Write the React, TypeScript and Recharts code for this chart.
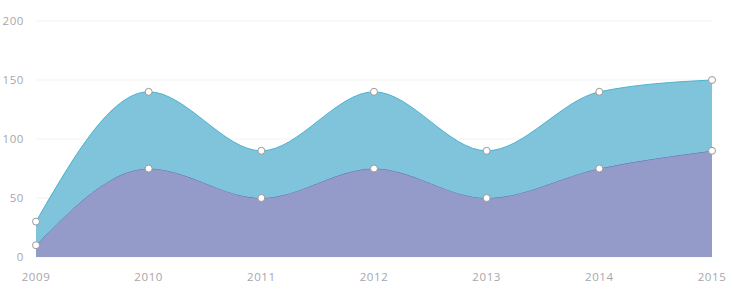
import { AreaChart, Area, XAxis, YAxis, CartesianGrid } from "recharts";

// yearly values, series b stacked on top of series a
const years = ["2009", "2010", "2011", "2012", "2013", "2014", "2015"];
const seriesA = [10, 75, 50, 75, 50, 75, 90];
const seriesB = [20, 65, 40, 65, 40, 65, 60];
const yTicks = [0, 50, 100, 150, 200];

const data = years.map((y, i) => ({ year: y, a: seriesA[i], b: seriesB[i] }));

const tickStyle = {
  fill: "#a6a6ad",
  fontSize: 11.5,
  letterSpacing: 0.6,
  fontFamily: "'Open Sans', sans-serif",
};
const dot = { r: 3.5, fill: "#ffffff", stroke: "#9a9a9a", strokeWidth: 1 };

export default function App() {
  return (
    <div style={{ position: "absolute", left: 0, top: 0, width: 731, height: 289, background: "#fff" }}>
      <AreaChart width={731} height={289} data={data} margin={{ top: 21, right: 19, bottom: 12, left: 6 }}>
        <CartesianGrid vertical={false} stroke="#f3f3f3" />
        <XAxis
          dataKey="year"
          axisLine={false}
          tickLine={false}
          tickSize={0}
          tickMargin={16}
          height={20}
          tick={tickStyle}
          interval={0}
        />
        <YAxis
          domain={[0, 200]}
          ticks={yTicks}
          axisLine={false}
          tickLine={false}
          tickSize={0}
          tickMargin={12}
          width={30}
          tick={tickStyle}
        />
        <Area
          type="monotone"
          dataKey="a"
          stackId="s"
          stroke="#5b6cb8"
          strokeWidth={1}
          fill="#949bc8"
          fillOpacity={1}
          dot={dot}
          activeDot={false}
          isAnimationActive={false}
        />
        <Area
          type="monotone"
          dataKey="b"
          stackId="s"
          stroke="#4fb3cf"
          strokeWidth={1}
          fill="#7fc4da"
          fillOpacity={1}
          dot={dot}
          activeDot={false}
          isAnimationActive={false}
        />
      </AreaChart>
    </div>
  );
}
